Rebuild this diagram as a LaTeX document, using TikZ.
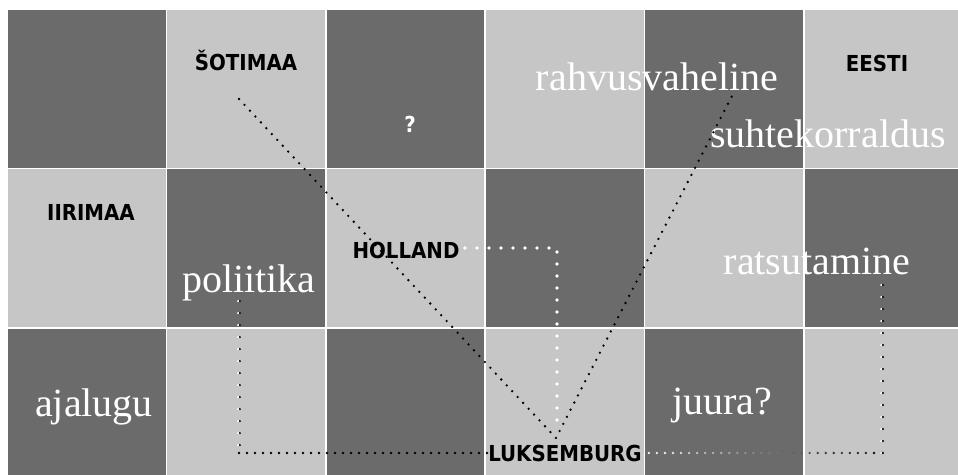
\documentclass[tikz,border=0pt]{standalone}
\usepackage{fontspec}
\setmainfont{Liberation Serif}
\newfontfamily\capsfont{DejaVu Sans Condensed}
\usetikzlibrary{calc}

\definecolor{cellDark}{HTML}{6B6B6B}
\definecolor{cellLight}{HTML}{C6C6C6}

\tikzset{
  country/.style={font=\capsfont\bfseries\fontsize{22}{26}\selectfont, text=black, inner sep=0pt, anchor=base},
  subject/.style={font=\fontsize{40}{48}\selectfont, text=white, inner sep=0pt, anchor=base},
  blackdots/.style={draw=black, line width=2.6pt, line cap=round, dash pattern=on 0pt off 8pt},
  sparsedots/.style={line width=2.4pt, line cap=round, dash pattern=on 0pt off 12pt},
  whitedots/.style={draw=white, line width=3.6pt, line cap=round, dash pattern=on 0pt off 12pt},
}

\begin{document}
\begin{tikzpicture}[x=1pt, y=-1pt, line join=round]
	\def\pitch{159.3} \def\cellsize{157.8}
	\useasboundingbox (0,0) rectangle (958,474);
	\fill[white] (0,0) rectangle (958,474);
	
	% checkerboard
	\begin{scope}
		\clip (0,0) rectangle (958,474);
		\foreach \c in {0,...,5}
		\foreach \r in {0,...,2} {
			\pgfmathtruncatemacro\odd{mod(\c+\r,2)}
			\ifnum\odd=0 \def\cellcol{cellDark}\else\def\cellcol{cellLight}\fi
			\fill[\cellcol] (8+\c*\pitch,10+\r*\pitch) rectangle ++(\cellsize,\cellsize);
		}
	\end{scope}
	
	\node[country] (sotimaa) at (246,70) {ŠOTIMAA};
	\node[country] (eesti) at (877,71) {EESTI};
	\node[country] (iirimaa) at (91,220) {IIRIMAA};
	\node[country] (holland) at (406,258) {HOLLAND};
	\node[country] (luks) at (565,461) {LUKSEMBURG};
	\node[country, text=white] (kysimus) at (410,132) {?};
	
	\node[subject] (rahvus) at (657,90) {rahvusvaheline};
	\node[subject, anchor=base west] (suhte) at (710,147) {suhtekorraldus};
	\node[subject] (poliitika) at (249,292) {poliitika};
	\node[subject] (ratsu) at (817,274) {ratsutamine};
	\node[subject] (ajalugu) at (94,416) {ajalugu};
	\node[subject] (juura) at (722,414) {juura?};
	
	% V
	\coordinate (v1) at ([shift={(-7,29)}]sotimaa.base);
	\coordinate (v2) at ([shift={(-9,-23)}]luks.base);
	\coordinate (v3) at ([shift={(75,6)}]rahvus.base);
	\draw[blackdots] (v1) -- (v2) -- (v3);
	
	\coordinate (h1) at ([shift={(59,-10)}]holland.base);
	\coordinate (h2) at ([shift={(-8,-36)}]luks.base);
	\draw[whitedots] (h1) -| (h2);
	
	\coordinate (p1) at ([shift={(-10,9)}]poliitika.base);
	\coordinate (p2) at (p1 |- luks.west);
	\draw[sparsedots, draw=black] ([xshift=0.8pt]p1) -- ([xshift=0.8pt]p2);
	\draw[sparsedots, draw=white] ([xshift=-0.8pt]p1) -- ([xshift=-0.8pt]p2);
	\draw[blackdots] (p2) -- (luks.west);
	
	\coordinate (r1) at ([shift={(65,0)}]ratsu.base);
	\coordinate (g1) at ([xshift=7pt]luks.east);
	\coordinate (g2) at (r1 |- luks.east);
	\foreach \i in {0,...,29} {
		\pgfmathsetmacro\tint{100*(1-\i/29)}
		\fill[white!\tint!black] ($(g1)!\i/29!(g2)$) circle (1.3);
	}
	\draw[sparsedots, draw=black] ([xshift=0.8pt]g2) -- ([xshift=0.8pt]r1);
	\draw[sparsedots, draw=white] ([xshift=-0.8pt]g2) -- ([xshift=-0.8pt]r1);
\end{tikzpicture}
\end{document}
